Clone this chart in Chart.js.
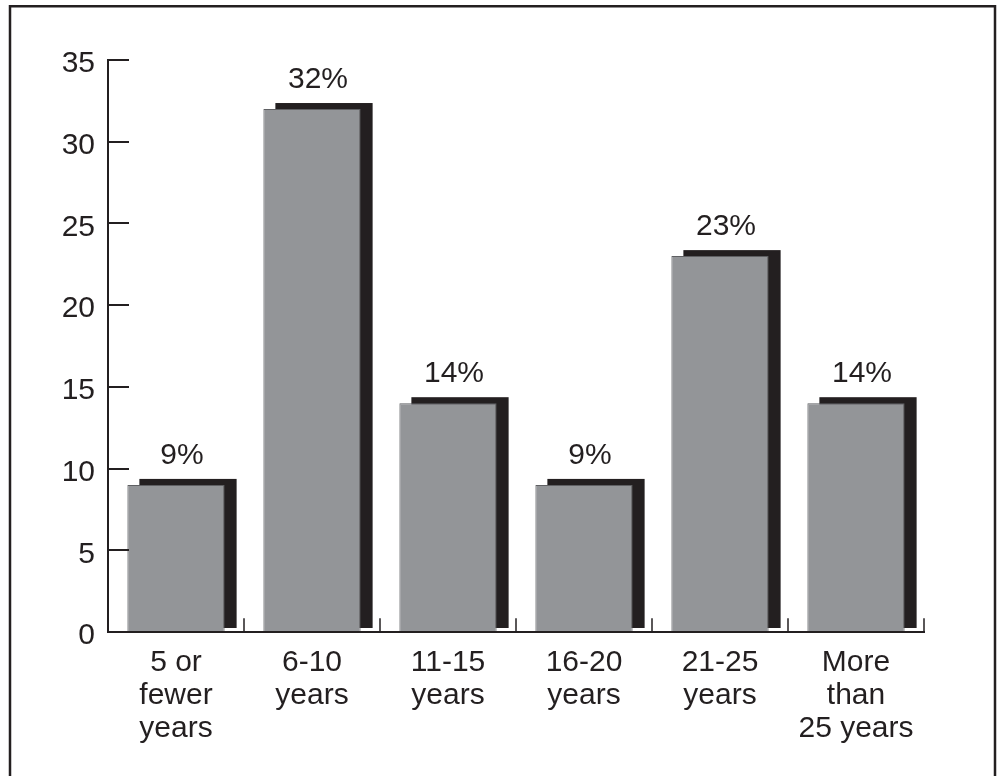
<!DOCTYPE html>
<html lang="en">
<head>
  <meta charset="UTF-8">
  <title>Years of experience</title>
  <script src="https://cdn.jsdelivr.net/npm/chart.js"></script>
</head>
<body style="margin:0; background:#fff;">

  <div style="position:relative; width:999px; height:776px;">
    <canvas id="yearsChart" width="999" height="776"></canvas>
  </div>

  <script>
    // data
    const categories = [
      ['5 or', 'fewer', 'years'],
      ['6-10', 'years'],
      ['11-15', 'years'],
      ['16-20', 'years'],
      ['21-25', 'years'],
      ['More', 'than', '25 years']
    ];
    const percents = [9, 32, 14, 9, 23, 14];
    const valueLabels = ['9%', '32%', '14%', '9%', '23%', '14%'];
    const yTicks = [0, 5, 10, 15, 20, 25, 30, 35];

    const INK = '#231f20';
    const FONT = '"Liberation Sans", Arial, sans-serif';

    // frame, shadows, axes, value labels
    const decorations = {
      id: 'decorations',
      beforeDraw(chart) {
        const ctx = chart.ctx;
        ctx.save();
        ctx.strokeStyle = INK;
        ctx.lineWidth = 2.5;
        ctx.beginPath();
        ctx.moveTo(10, 790);
        ctx.lineTo(10, 6.25);
        ctx.lineTo(995, 6.25);
        ctx.lineTo(995, 790);
        ctx.stroke();
        ctx.restore();
      },
      beforeDatasetsDraw(chart) {
        const ctx = chart.ctx;
        const meta = chart.getDatasetMeta(0);
        ctx.save();
        ctx.fillStyle = INK;
        meta.data.forEach(bar => {
          const p = bar.getProps(['x', 'y', 'width', 'base'], true);
          const left = p.x - p.width / 2 + 12;
          ctx.fillRect(left, p.y - 6, p.width, p.base - 4 - (p.y - 6));
        });
        ctx.restore();
      },
      afterDatasetsDraw(chart) {
        const ctx = chart.ctx;
        const area = chart.chartArea;
        const y = chart.scales.y;
        const x = chart.scales.x;
        ctx.save();
        ctx.strokeStyle = INK;
        ctx.lineWidth = 2;
        ctx.lineCap = 'square';

        // axis lines
        ctx.beginPath();
        ctx.moveTo(area.left, area.top);
        ctx.lineTo(area.left, area.bottom);
        ctx.lineTo(area.right, area.bottom);
        ctx.stroke();

        // y ticks point inward
        yTicks.forEach(v => {
          if (v === 0) return;
          const py = Math.round(y.getPixelForValue(v));
          ctx.beginPath();
          ctx.moveTo(area.left, py);
          ctx.lineTo(area.left + 20, py);
          ctx.stroke();
        });

        // x ticks at category boundaries, pointing up
        ctx.lineWidth = 1.5;
        for (let i = 0; i <= categories.length; i++) {
          let px;
          if (i < categories.length) px = x.getPixelForValue(i) - (x.width / categories.length) / 2;
          else px = area.right;
          ctx.beginPath();
          ctx.moveTo(px, area.bottom);
          ctx.lineTo(px, area.bottom - 13);
          ctx.stroke();
        }

        // value labels
        const meta = chart.getDatasetMeta(0);
        ctx.fillStyle = INK;
        ctx.font = '30px ' + FONT;
        ctx.textAlign = 'center';
        ctx.textBaseline = 'alphabetic';
        meta.data.forEach((bar, i) => {
          const p = bar.getProps(['x', 'y'], true);
          ctx.fillText(valueLabels[i], p.x + 6, p.y - 21);
        });
        ctx.restore();
      }
    };

    new Chart(document.getElementById('yearsChart'), {
      type: 'bar',
      data: {
        labels: categories,
        datasets: [{
          data: percents,
          backgroundColor: '#939598',
          borderColor: '#5f6063',
          borderWidth: 1,
          borderSkipped: false,
          categoryPercentage: 1,
          barPercentage: 0.715
        }]
      },
      options: {
        responsive: false,
        animation: false,
        layout: { padding: { top: 60, right: 75, left: 0, bottom: 0 } },
        plugins: {
          legend: { display: false },
          tooltip: { enabled: false }
        },
        scales: {
          x: {
            grid: { display: false, drawTicks: false },
            border: { display: false },
            ticks: {
              color: INK,
              font: { family: FONT, size: 30, lineHeight: 1.1 },
              padding: 14,
              maxRotation: 0,
              autoSkip: false
            },
            afterFit(scale) { scale.height = 144; }
          },
          y: {
            min: 0,
            max: 35,
            grid: { display: false, drawTicks: false },
            border: { display: false },
            afterBuildTicks(scale) { scale.ticks = yTicks.map(v => ({ value: v })); },
            ticks: {
              color: INK,
              font: { family: FONT, size: 30 },
              padding: 13,
              labelOffset: 4
            },
            afterFit(scale) { scale.width = 108; }
          }
        }
      },
      plugins: [decorations]
    });
  </script>

</body>
</html>
